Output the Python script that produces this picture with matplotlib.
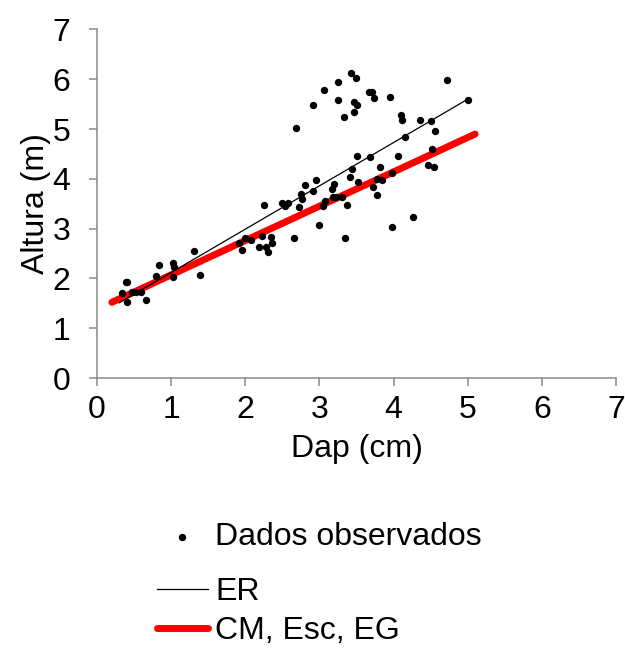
import numpy as np
import matplotlib
matplotlib.use('Agg')
import matplotlib.pyplot as plt

plt.rcParams['font.family'] = ['Liberation Sans', 'DejaVu Sans']

dap = [0.39, 0.41, 0.34, 0.40, 0.47, 0.53, 0.59, 0.66, 0.80, 0.84,
       1.03, 1.04, 1.03, 1.31, 1.39, 1.92, 1.95, 1.99, 2.08, 2.23,
       2.19, 2.28, 2.31, 2.35, 2.36, 3.42, 3.49, 3.25, 4.72, 3.06,
       3.67, 3.71, 3.73, 3.95, 3.25, 3.46, 3.51, 2.92, 5.00, 3.47,
       3.33, 4.10, 4.12, 4.35, 4.51, 4.56, 2.69, 4.16, 4.52, 3.50,
       3.68, 4.06, 4.47, 4.54, 3.82, 3.44, 3.41, 3.98, 3.52, 3.78,
       3.85, 3.72, 3.77, 2.96, 2.80, 2.92, 3.19, 3.17, 2.75, 2.76,
       2.73, 3.18, 3.23, 3.30, 3.07, 3.05, 3.37, 2.50, 2.53, 2.58,
       2.25, 3.00, 4.26, 3.98, 3.34, 2.66]
altura = [1.93, 1.93, 1.70, 1.53, 1.73, 1.73, 1.73, 1.57, 2.05, 2.27,
          2.32, 2.22, 2.02, 2.55, 2.07, 2.72, 2.57, 2.82, 2.77, 2.85,
          2.63, 2.64, 2.54, 2.84, 2.72, 6.13, 6.03, 5.94, 5.98, 5.78,
          5.75, 5.75, 5.62, 5.64, 5.58, 5.55, 5.49, 5.48, 5.58, 5.34,
          5.25, 5.29, 5.19, 5.18, 5.17, 4.96, 5.03, 4.85, 4.59, 4.46,
          4.43, 4.46, 4.28, 4.23, 4.23, 4.20, 4.04, 4.12, 3.94, 4.00,
          3.98, 3.83, 3.67, 3.98, 3.87, 3.76, 3.89, 3.80, 3.69, 3.59,
          3.44, 3.64, 3.64, 3.64, 3.56, 3.46, 3.47, 3.52, 3.46, 3.51,
          3.47, 3.07, 3.24, 3.03, 2.82, 2.82]

# Fitted lines (endpoints)
er_x = [0.30, 5.00]
er_y = [1.51, 5.60]
cm_x = [0.20, 5.10]
cm_y = [1.52, 4.90]

fig = plt.figure(figsize=(6.25, 6.54), dpi=100)
ax = fig.add_axes([0.1552, 0.422, 0.8304, 0.5329])

sc = ax.scatter(dap, altura, s=28, color='black', zorder=3, linewidths=0)
er_line, = ax.plot(er_x, er_y, color='black', linewidth=0.9, zorder=4)
cm_line, = ax.plot(cm_x, cm_y, color='#ff0000', linewidth=5, solid_capstyle='round', zorder=2)

ax.set_xlim(0, 7)
ax.set_ylim(0, 7)
ax.set_xticks(range(0, 8))
ax.set_yticks(range(0, 8))
for s in ['top', 'right']:
    ax.spines[s].set_visible(False)
for s in ['left', 'bottom']:
    ax.spines[s].set_color('#898989')
    ax.spines[s].set_linewidth(1.1)
ax.tick_params(colors='#898989', labelcolor='black', labelsize=23, length=6, width=1.1)
ax.tick_params(axis='x', pad=6)
ax.tick_params(axis='y', pad=13)
ax.set_xlabel('Dap (cm)', fontsize=23, labelpad=7)
ax.set_ylabel('Altura (m)', fontsize=23, labelpad=1)

leg1 = ax.legend([sc], ['Dados observados'], loc='center left',
                 bbox_to_anchor=(0.251, 0.179), bbox_transform=fig.transFigure,
                 frameon=False, fontsize=23, handlelength=1.6, handletextpad=0.22,
                 borderpad=0, borderaxespad=0)
ax.add_artist(leg1)
ax.legend([er_line, cm_line], ['ER', 'CM, Esc, EG'], loc='center left',
          bbox_to_anchor=(0.251, 0.065), bbox_transform=fig.transFigure,
          frameon=False, fontsize=23, handlelength=1.6, handletextpad=0.22,
          labelspacing=0.28, borderpad=0, borderaxespad=0)

fig.savefig('out.png', dpi=100)
